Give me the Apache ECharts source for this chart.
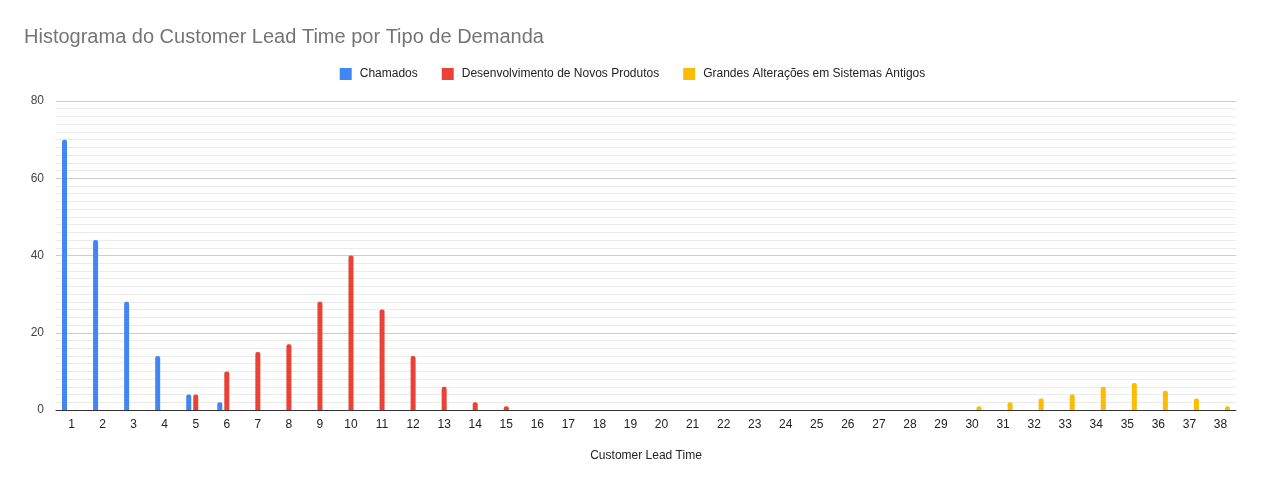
<!DOCTYPE html>
<html>
<head>
<meta charset="utf-8">
<script src="https://cdn.jsdelivr.net/npm/echarts@6/dist/echarts.min.js"></script>
<style>
  html, body { margin: 0; padding: 0; background: #fff; }
  #chart { width: 1265px; height: 487px; }
</style>
</head>
<body>
<div id="chart"></div>
<script>
// lead time buckets 1..38
const categories = ['1','2','3','4','5','6','7','8','9','10','11','12','13','14','15','16','17','18','19',
  '20','21','22','23','24','25','26','27','28','29','30','31','32','33','34','35','36','37','38']

const chamados = [70, 44, 28, 14, 4, 2, 0, 0, 0, 0, 0, 0, 0, 0, 0, 0, 0, 0, 0,
  0, 0, 0, 0, 0, 0, 0, 0, 0, 0, 0, 0, 0, 0, 0, 0, 0, 0, 0]
const novosProdutos = [0, 0, 0, 0, 4, 10, 15, 17, 28, 40, 26, 14, 6, 2, 1, 0, 0, 0, 0,
  0, 0, 0, 0, 0, 0, 0, 0, 0, 0, 0, 0, 0, 0, 0, 0, 0, 0, 0]
const sistemasAntigos = [0, 0, 0, 0, 0, 0, 0, 0, 0, 0, 0, 0, 0, 0, 0, 0, 0, 0, 0,
  0, 0, 0, 0, 0, 0, 0, 0, 0, 0, 1, 2, 3, 4, 6, 7, 5, 3, 1]

const font = '"Liberation Sans", Arial, sans-serif'

const barSeries = (name, data, color) => ({
  name: name,
  type: 'bar',
  data: data,
  barWidth: 5,
  barGap: '40%',
  itemStyle: { color: color, borderRadius: [2, 2, 0, 0] },
})

const options = {
  animation: false,
  textStyle: { fontFamily: font },
  title: {
    text: 'Histograma do Customer Lead Time por Tipo de Demanda',
    left: 19,
    top: 22,
    textStyle: { color: '#757575', fontSize: 20, fontWeight: 'normal', fontFamily: font },
  },
  legend: {
    top: 63,
    left: 'center',
    icon: 'rect',
    itemWidth: 12,
    itemHeight: 12,
    itemGap: 24,
    textStyle: { color: '#222', fontSize: 12, fontFamily: font, padding: [0, 0, 0, 3] },
  },
  grid: {
    left: 56,
    right: 29,
    top: 101,
    bottom: 77,
  },
  xAxis: {
    type: 'category',
    data: categories,
    name: 'Customer Lead Time',
    nameLocation: 'middle',
    nameGap: 40,
    nameTextStyle: { color: '#222', fontSize: 12 },
    axisLine: { lineStyle: { color: '#333', width: 1 } },
    axisTick: { show: false },
    axisLabel: { interval: 0, color: '#222', fontSize: 12, margin: 9 },
  },
  yAxis: {
    type: 'value',
    min: 0,
    max: 80,
    interval: 20,
    axisLine: { show: false },
    axisTick: { show: false },
    axisLabel: { color: '#444', fontSize: 12, margin: 12 },
    splitLine: { lineStyle: { color: '#cccccc' } },
    minorTick: { show: false, splitNumber: 10 },
    minorSplitLine: { show: true, lineStyle: { color: '#ebebeb' } },
  },
  series: [
    barSeries('Chamados', chamados, '#4285F4'),
    barSeries('Desenvolvimento de Novos Produtos', novosProdutos, '#EA4335'),
    barSeries('Grandes Alterações em Sistemas Antigos', sistemasAntigos, '#FBBC04'),
  ],
}

const chart = echarts.init(document.getElementById('chart'))
chart.setOption(options)
window.addEventListener('resize', function () {
  chart && chart.resize()
})
</script>
</body>
</html>
